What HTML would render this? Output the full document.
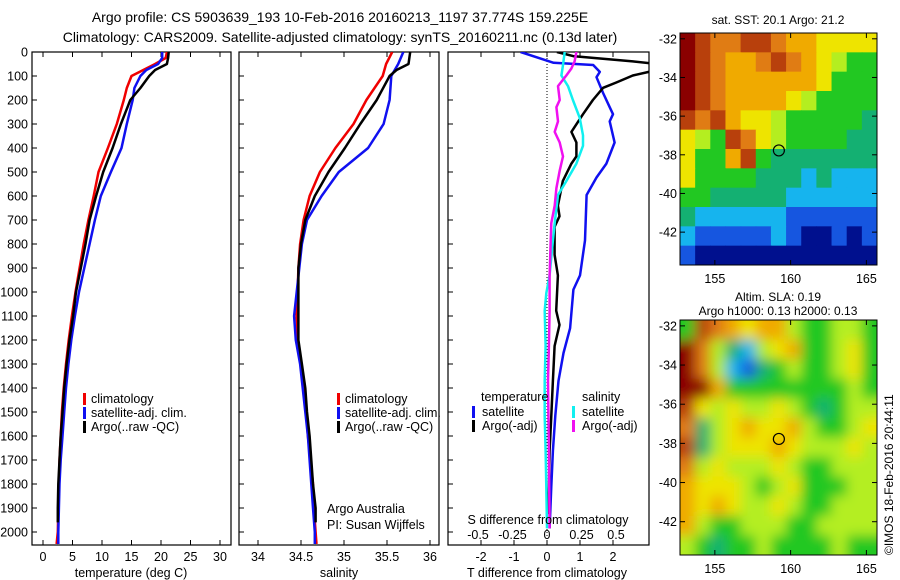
<!DOCTYPE html>
<html><head><meta charset="utf-8"><style>
body{margin:0;background:#fff;}
svg{display:block;font-family:"Liberation Sans",sans-serif;}
text{fill:#000;}
</style></head><body>
<svg id="fig" width="900" height="580" viewBox="0 0 900 580">
<defs>
<clipPath id="c1"><rect x="32" y="52" width="199" height="493"/></clipPath>
<clipPath id="c2"><rect x="239" y="52" width="200" height="493"/></clipPath>
<clipPath id="c3"><rect x="448" y="52" width="201" height="493"/></clipPath>
<clipPath id="cm1"><rect x="680" y="33" width="197" height="232"/></clipPath>
<clipPath id="cm2"><rect x="680" y="320" width="197" height="235"/></clipPath>
<filter id="blur" x="-5%" y="-5%" width="110%" height="110%"><feGaussianBlur stdDeviation="6"/></filter>
</defs>
<text x="340" y="22" font-size="14" text-anchor="middle">Argo profile: CS 5903639_193 10-Feb-2016 20160213_1197 37.774S 159.225E</text>
<text x="340" y="42" font-size="14" text-anchor="middle">Climatology: CARS2009. Satellite-adjusted climatology: synTS_20160211.nc (0.13d later)</text>
<g id="p1"></g>
<g id="p2"></g>
<g id="p3"></g>
<g id="m1"></g>
<g id="m2"></g>
<text x="778" y="24" font-size="12" text-anchor="middle">sat. SST: 20.1 Argo: 21.2</text>
<text x="778" y="301" font-size="12" text-anchor="middle">Altim. SLA: 0.19</text>
<text x="778" y="315" font-size="12" text-anchor="middle">Argo h1000: 0.13 h2000: 0.13</text>
<text transform="translate(893,555) rotate(-90)" font-size="12">©IMOS 18-Feb-2016 20:44:11</text>
</svg>
<script>
const NS="http://www.w3.org/2000/svg";
// ---- data ----
const tDepth=[0,25,50,75,100,150,200,300,400,500,600,700,800,900,1000,1100,1200,1300,1400,1500,1600,1700,1800,1900,2000,2050];
const tClim=[21,20.8,19,17,15,14.2,13.7,12.5,11,9.4,8.6,7.7,6.9,6.2,5.5,4.9,4.35,3.9,3.5,3.2,3.0,2.8,2.7,2.6,2.5,2.3];
const tSat=[20.2,20.2,19.5,17.5,16.5,15.5,15.2,14.2,13.3,11.5,9.8,8.8,7.9,7.0,6.1,5.4,4.8,4.3,3.9,3.6,3.3,3.0,2.8,2.7,2.6,2.6];
const tArgoDepth=[0,25,50,75,100,150,200,300,400,500,600,700,800,900,1000,1100,1200,1300,1400,1500,1600,1700,1800,1900,1960];
const tArgo=[21.3,21.2,21,19,18,16.5,14.8,13.2,11.8,10.2,9.0,7.9,7.2,6.4,5.6,5.1,4.5,4.0,3.6,3.3,3.0,2.8,2.6,2.5,2.5];
const sDepth=[0,50,100,200,300,400,500,600,700,800,900,1000,1100,1200,1300,1400,1500,1600,1700,1800,1900,2000,2050];
const sClim=[35.56,35.49,35.45,35.26,35.11,34.9,34.72,34.6,34.53,34.49,34.47,34.46,34.45,34.46,34.5,34.53,34.56,34.58,34.61,34.64,34.65,34.67,34.68];
const sSat=[35.69,35.63,35.55,35.53,35.46,35.28,34.94,34.74,34.57,34.51,34.48,34.45,34.42,34.44,34.49,34.52,34.55,34.58,34.6,34.62,34.64,34.66,34.66];
const sArgoDepth=[0,50,75,100,200,300,400,500,600,700,800,900,1000,1100,1200,1300,1400,1500,1600,1700,1800,1900,1960];
const sArgo=[35.77,35.75,35.61,35.53,35.38,35.19,35.01,34.82,34.66,34.55,34.5,34.47,34.47,34.47,34.47,34.51,34.55,34.57,34.6,34.62,34.64,34.67,34.67];
const dTSatDepth=[0,45,54,83,105,171,230,259,289,377,465,523,596,785,931,990,1151,1254,1370,1516,1662,1809,1985];
const dTSat=[-0.8,0.2,1.4,1.6,1.5,1.7,1.9,2.0,1.9,2.05,1.8,1.5,1.2,1.15,1.0,0.8,0.7,0.5,0.35,0.25,0.18,0.13,0.08];
const dTArgoDepth=[0,10,17,39,54,76,98,127,149,200,259,333,377,435,465,538,640,684,728,845,931,1078,1137,1225,1370,1516,1662,1809,1926];
const dTArgo=[0.3,0.59,0.79,2.6,3.6,3.3,2.6,2.1,1.7,1.39,1.09,0.74,0.89,0.89,0.74,0.48,0.33,0.38,0.23,0.23,0.33,0.28,0.38,0.23,0.18,0.13,0.08,0.06,0.03];
const dSSatDepth=[0,54,98,142,200,274,347,391,465,538,596,713,785,931,1005,1078,1225,1370,1516,1662,1809,1985];
const dSSat=[0.128,0.116,0.104,0.152,0.188,0.237,0.261,0.261,0.213,0.14,0.08,0.056,0.043,0.019,-0.005,-0.017,-0.01,-0.017,-0.017,-0.01,-0.005,0];
const dSArgoDepth=[0,39,69,98,142,200,230,289,333,377,435,494,567,640,713,785,931,1078,1225,1370,1662,1985];
const dSArgo=[0.213,0.2,0.176,0.14,0.08,0.092,0.068,0.08,0.056,0.092,0.116,0.092,0.068,0.056,0.031,0.027,0.019,0.019,0.014,0.007,0.014,0.019];
const depthTicks=[0,100,200,300,400,500,600,700,800,900,1000,1100,1200,1300,1400,1500,1600,1700,1800,1900,2000];
const tTicks=[0,5,10,15,20,25,30];
const sTicks=[34,34.5,35,35.5,36];
const sTickLabels=["34","34.5","35","35.5","36"];
const dTTicks=[-2,-1,0,1,2];
const dSTicks=[-0.5,-0.25,0,0.25,0.5];
const dSTickLabels=["-0.5","-0.25","0","0.25","0.5"];
// map colour-index grids (rows north->south, cols west->east)
const sstGrid=[
[0,1,2,2,1,1,2,3,3,4,4,4,4],
[0,1,2,3,3,2,1,2,3,4,5,6,6],
[0,1,2,3,3,3,3,3,3,4,6,6,6],
[0,1,2,3,3,3,3,4,5,6,6,6,6],
[1,2,1,3,4,4,5,6,6,6,6,6,7],
[4,5,6,1,2,4,5,6,6,6,6,7,7],
[4,6,6,3,1,6,7,7,7,7,7,7,7],
[4,6,6,6,6,7,7,7,8,7,8,8,8],
[6,6,7,7,7,7,7,8,8,8,8,8,8],
[7,8,8,8,8,8,8,9,9,9,9,9,9],
[8,9,9,9,9,9,8,9,10,10,9,10,9],
[9,10,10,10,10,10,10,10,10,10,10,10,10]];
const slaGrid=[
[6,1,2,3,4,3,3,5,6,6,5,5,6],
[0,2,5,7,8,5,4,3,6,6,5,4,6],
[0,2,5,8,9,7,6,5,6,6,5,4,6],
[0,0,3,6,6,6,6,6,6,6,6,5,6],
[1,4,5,4,5,5,4,5,6,7,6,5,5],
[2,7,5,4,3,4,4,3,5,6,6,5,4],
[1,7,5,4,4,4,3,4,5,5,5,4,5],
[2,5,4,5,5,5,4,5,6,6,5,5,5],
[3,4,4,4,5,6,5,4,6,6,6,5,5],
[3,4,3,4,5,5,4,5,6,6,5,5,5],
[3,5,6,6,5,5,5,6,6,5,5,5,5],
[5,6,7,6,6,5,6,6,6,6,5,6,6]];
const lonTicks=[155,160,165];
const latTicks=[-32,-34,-36,-38,-40,-42];
const argoPos=[159.225,-37.774];
const palette=["#8a0000","#b8400c","#e07c14","#f0aa00","#eee400","#b4ee20","#22c822","#14b072","#16b4ee","#1656e0","#00108e"];
// ---- helpers ----
function el(tag,attrs,parent){const e=document.createElementNS(NS,tag);for(const k in attrs)e.setAttribute(k,attrs[k]);parent.appendChild(e);return e;}
const yD=d=>52+d*0.24;
const xT=v=>43+v*5.9;
const xS=v=>258+(v-34)*86;
const xDT=v=>547+v*33;
const xDS=v=>547+v*138;
function pts(depths,vals,fx){let p=[];for(let i=0;i<depths.length;i++){p.push(fx(vals[i]).toFixed(1)+","+yD(depths[i]).toFixed(1));}return p.join(" ");}
function series(g,depths,vals,fx,color,clip,name){const l=el("polyline",{points:pts(depths,vals,fx),fill:"none",stroke:color,"stroke-width":"2.5","stroke-linejoin":"round","clip-path":"url(#"+clip+")"},g);

}
function frame(g,x,w){const r=el("rect",{x:x,y:52,width:w,height:493,fill:"none",stroke:"#000","stroke-width":"1.2"},g);


depthTicks.forEach(d=>{el("line",{x1:x,x2:x+5,y1:yD(d),y2:yD(d),stroke:"#000"},g);});}
function txt(g,x,y,s,size,anchor,name){const t=el("text",{x:x,y:y,"font-size":size,"text-anchor":anchor||"start"},g);t.textContent=s;

return t;}
function legendBar(g,x,y,color){const b=el("rect",{x:x,y:y-10,width:3,height:12,fill:color},g);

}
// ---- panel 1 ----
const p1=document.getElementById("p1");
frame(p1,32,199);
depthTicks.forEach(d=>txt(p1,28,yD(d)+4.5,String(d),12.5,"end","depth-tick-label"));
tTicks.forEach(v=>{el("line",{x1:xT(v),x2:xT(v),y1:545,y2:540,stroke:"#000"},p1);el("line",{x1:xT(v),x2:xT(v),y1:52,y2:57,stroke:"#000"},p1);txt(p1,xT(v),561,String(v),12.5,"middle","temperature-tick-label");});
txt(p1,131,577,"temperature (deg C)",12.5,"middle","temperature-axis-title");
series(p1,tDepth,tClim,xT,"#f00000","c1","temperature-climatology-line");
series(p1,tDepth,tSat,xT,"#1010f0","c1","temperature-satellite-line");
series(p1,tArgoDepth,tArgo,xT,"#000","c1","temperature-argo-line");
[["climatology","#f00000"],["satellite-adj. clim.","#1010f0"],["Argo(..raw -QC)","#000"]].forEach((e,i)=>{legendBar(p1,83,403+i*14,e[1]);txt(p1,91,403+i*14,e[0],12.5,"start","legend-entry");});
// ---- panel 2 ----
const p2=document.getElementById("p2");
frame(p2,239,200);
sTicks.forEach((v,i)=>{el("line",{x1:xS(v),x2:xS(v),y1:545,y2:540,stroke:"#000"},p2);el("line",{x1:xS(v),x2:xS(v),y1:52,y2:57,stroke:"#000"},p2);txt(p2,xS(v),561,sTickLabels[i],12.5,"middle","salinity-tick-label");});
txt(p2,339,577,"salinity",12.5,"middle","salinity-axis-title");
series(p2,sDepth,sClim,xS,"#f00000","c2","salinity-climatology-line");
series(p2,sDepth,sSat,xS,"#1010f0","c2","salinity-satellite-line");
series(p2,sArgoDepth,sArgo,xS,"#000","c2","salinity-argo-line");
[["climatology","#f00000"],["satellite-adj. clim.","#1010f0"],["Argo(..raw -QC)","#000"]].forEach((e,i)=>{legendBar(p2,337,403+i*14,e[1]);txt(p2,345,403+i*14,e[0],12.5,"start","legend-entry");});
txt(p2,327,513,"Argo Australia",12.5,"start","data-source-note");
txt(p2,327,529,"PI: Susan Wijffels",12.5,"start","pi-note");
// ---- panel 3 ----
const p3=document.getElementById("p3");
frame(p3,448,201);
el("line",{x1:xDT(0),x2:xDT(0),y1:52,y2:545,stroke:"#000","stroke-dasharray":"1,2"},p3);
dTTicks.forEach(v=>{el("line",{x1:xDT(v),x2:xDT(v),y1:545,y2:540,stroke:"#000"},p3);el("line",{x1:xDT(v),x2:xDT(v),y1:52,y2:57,stroke:"#000"},p3);txt(p3,xDT(v),561,String(v),12.5,"middle","t-diff-tick-label");});
txt(p3,547,577,"T difference from climatology",12.5,"middle","t-diff-axis-title");
series(p3,dTSatDepth,dTSat,xDT,"#1010f0","c3","t-diff-satellite-line");
series(p3,dTArgoDepth,dTArgo,xDT,"#000","c3","t-diff-argo-line");
series(p3,dSSatDepth,dSSat,xDS,"#10f0f0","c3","s-diff-satellite-line");
series(p3,dSArgoDepth,dSArgo,xDS,"#f010f0","c3","s-diff-argo-line");
txt(p3,548,524,"S difference from climatology",12.5,"middle","s-diff-axis-title");
dSTicks.forEach((v,i)=>txt(p3,xDS(v),539,dSTickLabels[i],12.5,"middle","s-diff-tick-label"));
txt(p3,481,401,"temperature",12.5,"start","legend-heading-temperature");
txt(p3,582,401,"salinity",12.5,"start","legend-heading-salinity");
[["satellite","#1010f0",472],["Argo(-adj)","#000",472],["satellite","#10f0f0",572],["Argo(-adj)","#f010f0",572]].forEach((e,i)=>{const y=416+(i%2)*14;legendBar(p3,e[2],y,e[1]);txt(p3,e[2]+10,y,e[0],12.5,"start","legend-entry");});
// ---- maps ----
function drawMap(id,grid,top,bottom,clip,blur){
const g=document.getElementById(id);
const L=680,R=877,lon0=152.7,lon1=165.7,lat0=-31.7,lat1=-43.7;
const xL=lo=>L+(lo-lon0)/(lon1-lon0)*(R-L);
const yL=la=>top+(la-lat0)/(lat1-lat0)*(bottom-top);
const nr=grid.length,nc=grid[0].length;
const cg=el("g",{"clip-path":"url(#"+clip+")"},g);
const ig=el("g",blur?{filter:"url(#blur)"}:{},cg);
const pad=blur?2:0;
for(let r=-pad;r<nr+pad;r++)for(let c=-pad;c<nc+pad;c++){
const rr=Math.min(nr-1,Math.max(0,r)),cc=Math.min(nc-1,Math.max(0,c));
const loA=lon0+c*(lon1-lon0)/nc,loB=lon0+(c+1)*(lon1-lon0)/nc;
const laA=lat0+r*(lat1-lat0)/nr,laB=lat0+(r+1)*(lat1-lat0)/nr;
const cell=el("rect",{x:xL(loA),y:yL(laA),width:xL(loB)-xL(loA)+0.6,height:yL(laB)-yL(laA)+0.6,fill:palette[grid[rr][cc]]},ig);

}
const f=el("rect",{x:L,y:top,width:R-L,height:bottom-top,fill:"none",stroke:"#000"},g);


lonTicks.forEach(lo=>{el("line",{x1:xL(lo),x2:xL(lo),y1:top,y2:top+5,stroke:"#000"},g);el("line",{x1:xL(lo),x2:xL(lo),y1:bottom,y2:bottom-5,stroke:"#000"},g);txt(g,xL(lo),bottom+18,String(lo),12.5,"middle","lon-tick-label");});
latTicks.forEach(la=>{el("line",{x1:L,x2:L+5,y1:yL(la),y2:yL(la),stroke:"#000"},g);el("line",{x1:R,x2:R-5,y1:yL(la),y2:yL(la),stroke:"#000"},g);txt(g,L-3,yL(la)+4.5,String(la),12.5,"end","lat-tick-label");});
const m=el("circle",{cx:xL(argoPos[0]),cy:yL(argoPos[1]),r:5.5,fill:"none",stroke:"#000","stroke-width":"1.2"},g);


}
drawMap("m1",sstGrid,33,265,"cm1",false);
drawMap("m2",slaGrid,320,555,"cm2",true);
</script>
</body></html>
